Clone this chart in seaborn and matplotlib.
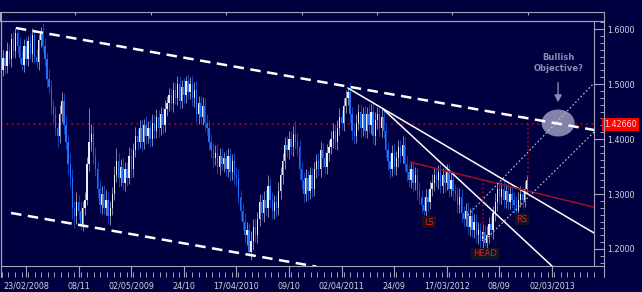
import numpy as np
import pandas as pd
import seaborn as sns
import matplotlib
matplotlib.use("Agg")
import matplotlib.pyplot as plt
from matplotlib.lines import Line2D
from matplotlib.patches import Ellipse
from matplotlib.ticker import FixedLocator

# ---------------- data (weekly EUR/USD-like candles) ----------------
first_open = 1.510
closes = [
    1.525, 1.548, 1.532, 1.560, 1.545, 1.582, 1.560, 1.592, 1.570, 1.548,
    1.535, 1.570, 1.545, 1.578, 1.555, 1.590, 1.550, 1.540, 1.580, 1.595,
    1.570, 1.545, 1.510, 1.495, 1.460, 1.445, 1.420, 1.405, 1.445, 1.470,
    1.425, 1.395, 1.355, 1.330, 1.275, 1.260, 1.285, 1.270, 1.245, 1.275,
    1.290, 1.355, 1.395, 1.410, 1.370, 1.345, 1.310, 1.280, 1.300, 1.275,
    1.290, 1.260, 1.275, 1.300, 1.335, 1.360, 1.330, 1.350, 1.320, 1.345,
    1.330, 1.370, 1.345, 1.380, 1.405, 1.395, 1.420, 1.395, 1.425, 1.405,
    1.420, 1.400, 1.430, 1.415, 1.440, 1.420, 1.445, 1.425, 1.455, 1.465,
    1.480, 1.465, 1.490, 1.475, 1.500, 1.470, 1.495, 1.480, 1.505, 1.485,
    1.500, 1.475, 1.490, 1.445, 1.465, 1.440, 1.460, 1.430, 1.420, 1.395,
    1.380, 1.365, 1.375, 1.350, 1.370, 1.355, 1.365, 1.345, 1.370, 1.340,
    1.360, 1.335, 1.330, 1.295, 1.270, 1.250, 1.225, 1.235, 1.195, 1.215,
    1.240, 1.225, 1.255, 1.285, 1.265, 1.290, 1.275, 1.315, 1.290, 1.270,
    1.285, 1.275, 1.305, 1.335, 1.360, 1.390, 1.380, 1.400, 1.385, 1.410,
    1.395, 1.385, 1.345, 1.325, 1.300, 1.330, 1.305, 1.335, 1.310, 1.345,
    1.360, 1.345, 1.380, 1.365, 1.350, 1.375, 1.385, 1.400, 1.415, 1.395,
    1.420, 1.440, 1.430, 1.460, 1.475, 1.485, 1.445, 1.415, 1.405, 1.430,
    1.450, 1.420, 1.445, 1.415, 1.445, 1.425, 1.450, 1.405, 1.435, 1.445,
    1.420, 1.440, 1.415, 1.380, 1.360, 1.345, 1.375, 1.350, 1.365, 1.385,
    1.370, 1.390, 1.355, 1.340, 1.325, 1.345, 1.320, 1.335, 1.305, 1.295,
    1.280, 1.270, 1.295, 1.285, 1.310, 1.320, 1.335, 1.325, 1.340, 1.315,
    1.335, 1.320, 1.340, 1.310, 1.325, 1.305, 1.300, 1.280, 1.295, 1.265,
    1.255, 1.270, 1.240, 1.260, 1.235, 1.250, 1.225, 1.235, 1.215, 1.230,
    1.210, 1.225, 1.245, 1.235, 1.265, 1.285, 1.310, 1.295, 1.310, 1.290,
    1.305, 1.285, 1.300, 1.290, 1.280, 1.270, 1.290, 1.300, 1.290, 1.310, 1.325,
]
# wick lengths above / below the candle body, in units of 0.001
wick_up = [
    12, 14, 10, 16, 13, 11, 14, 9, 12, 16,
    13, 11, 15, 10, 14, 12, 10, 13, 11, 9,
    16, 14, 12, 18, 13, 11, 15, 10, 16, 15,
    14, 16, 13, 19, 15, 12, 18, 14, 16, 13,
    14, 12, 62, 18, 14, 16, 13, 15, 14, 16,
    18, 14, 13, 12, 16, 24, 15, 13, 17, 14,
    13, 16, 14, 12, 17, 13, 15, 14, 12, 16,
    12, 14, 16, 13, 15, 12, 14, 13, 16, 14,
    13, 12, 14, 11, 15, 14, 13, 16, 9, 14,
    12, 14, 13, 15, 14, 13, 16, 14, 15, 13,
    14, 13, 15, 16, 13, 14, 12, 15, 13, 14,
    13, 15, 14, 16, 13, 14, 16, 15, 13, 18,
    14, 16, 13, 15, 14, 16, 18, 20, 14, 13,
    14, 13, 16, 15, 14, 13, 16, 15, 14, 13,
    22, 16, 14, 13, 15, 16, 14, 15, 13, 14,
    13, 14, 15, 13, 14, 16, 13, 15, 14, 13,
    14, 16, 13, 15, 14, 8, 16, 14, 13, 15,
    14, 14, 13, 15, 14, 16, 13, 15, 14, 13,
    13, 14, 16, 15, 14, 13, 15, 16, 14, 13,
    14, 16, 13, 15, 14, 13, 15, 14, 13, 16,
    13, 14, 15, 14, 13, 16, 14, 12, 13, 15,
    13, 13, 14, 16, 13, 15, 14, 13, 16, 14,
    14, 13, 15, 14, 16, 13, 14, 15, 13, 16,
    14, 16, 13, 15, 14, 16, 12, 14, 12, 15,
    14, 13, 15, 14, 13, 16, 14, 15, 13, 14, 10,
]
wick_dn = [
    14, 10, 13, 12, 9, 14, 11, 13, 16, 10,
    12, 14, 11, 13, 10, 15, 12, 11, 14, 13,
    12, 13, 16, 11, 14, 17, 12, 19, 13, 14,
    16, 14, 18, 17, 20, 22, 14, 16, 10, 13,
    13, 10, 14, 16, 15, 13, 17, 14, 16, 12,
    14, 12, 16, 13, 11, 14, 17, 16, 12, 15,
    15, 12, 16, 14, 13, 15, 12, 16, 13, 14,
    13, 15, 12, 14, 13, 16, 12, 15, 13, 14,
    14, 13, 15, 12, 14, 16, 13, 14, 15, 12,
    13, 15, 16, 14, 17, 13, 14, 16, 13, 15,
    15, 16, 13, 14, 16, 12, 15, 13, 14, 16,
    14, 16, 15, 13, 17, 16, 14, 18, 8, 15,
    16, 13, 15, 14, 13, 15, 14, 16, 14, 15,
    15, 16, 13, 14, 16, 15, 13, 16, 14, 15,
    14, 15, 17, 16, 14, 13, 16, 14, 15, 13,
    15, 13, 14, 16, 13, 14, 15, 13, 16, 14,
    15, 13, 14, 16, 13, 14, 15, 16, 14, 13,
    14, 16, 15, 13, 14, 13, 16, 14, 15, 16,
    15, 16, 14, 13, 16, 15, 13, 14, 16, 15,
    13, 14, 15, 16, 13, 14, 16, 13, 15, 14,
    14, 8, 16, 15, 13, 14, 15, 13, 16, 14,
    14, 16, 13, 15, 14, 16, 13, 15, 14, 16,
    15, 14, 13, 16, 14, 15, 13, 16, 14, 15,
    5, 15, 14, 13, 16, 14, 15, 13, 14, 16,
    15, 14, 13, 16, 14, 5, 16, 14, 15, 13, 10,
]

date_labels = ["23/02/2008", "08/11", "02/05/2009", "24/10", "17/04/2010", "09/10",
               "02/04/2011", "24/09", "17/03/2012", "08/09", "02/03/2013"]
price_ticks = [1.2, 1.3, 1.4, 1.5, 1.6]
last_price = 1.4266

# drawn analysis lines: (bar, price) endpoints
channel_upper_bars = [7.2, 282.0]
channel_upper_prices = [1.6018, 1.4164]
channel_lower_bars = [4.9, 150.0]
channel_lower_prices = [1.2655, 1.1680]
trend_shallow_bars = [165.0, 282.0]
trend_shallow_prices = [1.4927, 1.2291]
trend_steep_bars = [181.7, 263.0]
trend_steep_prices = [1.4545, 1.1655]
neckline_bars = [194.5, 282.0]
neckline_prices = [1.358, 1.276]
dot_upper_bars = [220.7, 282.0]
dot_upper_prices = [1.2564, 1.5018]
dot_lower_bars = [230.2, 282.0]
dot_lower_prices = [1.2164, 1.4127]
head_measure_bar = 229.2
head_measure_prices = [1.327, 1.2127]
break_measure_bar = 250.6
break_measure_prices = [last_price, 1.3255]
shoulder_labels = ["LS", "HEAD", "RS"]
shoulder_bars = [203.5, 230.2, 247.7]
shoulder_prices = [1.249, 1.191, 1.2545]
objective_center = (264.9, 1.4291)

# ---------------- derived table ----------------
opens = [first_open] + closes[:-1]
df = pd.DataFrame({"bar": np.arange(len(closes)), "open": opens, "close": closes,
                   "up": wick_up, "dn": wick_dn})
df["top"] = df[["open", "close"]].max(axis=1)
df["bot"] = df[["open", "close"]].min(axis=1)
df["high"] = df["top"] + df["up"] / 1000.0
df["low"] = df["bot"] - df["dn"] / 1000.0
df["bull"] = df["close"] >= df["open"]

# ---------------- styling ----------------
BG = "#000040"
FR = "#a4a4b8"
TXT = "#d4d4dc"
sns.set_theme(style="dark", rc={"axes.facecolor": BG, "figure.facecolor": BG,
                                "axes.edgecolor": FR, "savefig.facecolor": BG})
plt.rcParams["font.family"] = ["DejaVu Sans"]

W, H = 642, 292
fig = plt.figure(figsize=(W / 100, H / 100), dpi=100)
fig.patch.set_facecolor(BG)

def fx(px):
    return px / W

def fy(py):
    return 1 - py / H

XL = (0.12, 281.97)
YL = (1.16909, 1.61455)

ax = fig.add_axes([fx(1), fy(266), (594 - 1) / W, (266 - 21) / H])
ax.set_facecolor(BG)
ax.set_xlim(*XL)
ax.set_ylim(*YL)
ax.set_xticks([])
ax.set_yticks([])
ax.grid(False)
for s in ax.spines.values():
    s.set_color(FR)
    s.set_linewidth(0.8)
    s.set_visible(True)

# red horizontal line at the last price
ax.axhline(last_price, color="#b00010", lw=1.3, ls=(0, (1, 2)), zorder=2)

# candles
bull = df[df.bull]
bear = df[~df.bull]
ax.vlines(bull.bar, bull.low, bull.high, colors="#9a9ab4", lw=0.6, zorder=3)
ax.vlines(bear.bar, bear.low, bear.high, colors="#1050d8", lw=0.6, zorder=3)
ax.bar(bull.bar, np.maximum(bull.top - bull.bot, 0.002), bottom=bull.bot, width=0.62,
       color="#ececf4", linewidth=0, zorder=4)
ax.bar(bear.bar, np.maximum(bear.top - bear.bot, 0.002), bottom=bear.bot, width=0.62,
       color="#1c70ff", linewidth=0, zorder=4)

# ellipse + objective annotation
ell = Ellipse(objective_center, width=15.7, height=0.049, facecolor="#8a8ab2",
              edgecolor="none", alpha=0.95, zorder=5)
ax.add_patch(ell)
ax.annotate("", xy=(objective_center[0], 1.4618), xytext=(objective_center[0], 1.5073),
            arrowprops=dict(arrowstyle="-|>,head_length=0.35,head_width=0.18",
                            color="#8a8ab2", lw=1.0), zorder=6)
ax.text(objective_center[0], 1.538, "Bullish\nObjective?", ha="center", va="center",
        color="#8a8ab2", fontsize=6.0, fontweight="bold", linespacing=1.35, zorder=6)

# channel (dashed white)
ax.plot(channel_upper_bars, channel_upper_prices, color="white", lw=1.8,
        ls=(0, (4.2, 2.6)), zorder=6, dash_capstyle="butt")
ax.plot(channel_lower_bars, channel_lower_prices, color="white", lw=1.8,
        ls=(0, (4.2, 2.6)), zorder=6, dash_capstyle="butt")

# solid trend lines
sns.lineplot(x=trend_shallow_bars, y=trend_shallow_prices, ax=ax, color="white",
             lw=1.1, zorder=6, sort=False)
sns.lineplot(x=trend_steep_bars, y=trend_steep_prices, ax=ax, color="white",
             lw=1.1, zorder=6, sort=False)
sns.lineplot(x=neckline_bars, y=neckline_prices, ax=ax, color="#a01020",
             lw=1.1, zorder=6, sort=False)

# dotted projection channel
ax.plot(dot_upper_bars, dot_upper_prices, color="#c8c8d8", lw=0.8, ls=(0, (1.5, 2)), zorder=6)
ax.plot(dot_lower_bars, dot_lower_prices, color="#c8c8d8", lw=0.8, ls=(0, (1.5, 2)), zorder=6)

# red measuring verticals
ax.plot([head_measure_bar] * 2, head_measure_prices, color="#c00010", lw=1.1,
        ls=(0, (1, 1.8)), zorder=6)
ax.plot([break_measure_bar] * 2, break_measure_prices, color="#c00010", lw=1.1,
        ls=(0, (1, 1.8)), zorder=6)

for lab, b, p in zip(shoulder_labels, shoulder_bars, shoulder_prices):
    ax.text(b, p, lab, ha="center", va="center", color="#ee1c1c", fontsize=6.0, zorder=7,
            bbox=dict(boxstyle="square,pad=0.2", facecolor="#121224", edgecolor="none"))

ax.set_xlabel("")
ax.set_ylabel("")
if ax.get_legend():
    ax.get_legend().remove()

# ---------------- x tick strip ----------------
axx = fig.add_axes([fx(1), fy(277), (594 - 1) / W, 11 / H])
axx.set_facecolor("none")
axx.set_xlim(*XL)
axx.set_ylim(0, 1)
for s in axx.spines.values():
    s.set_visible(False)
axx.grid(False)
major_bars = [12 + 25 * k for k in range(len(date_labels))]
axx.xaxis.set_major_locator(FixedLocator(major_bars))
axx.xaxis.set_minor_locator(FixedLocator(list(np.arange(0.5, 282, 25 / 8))))
axx.set_xticklabels(date_labels)
axx.set_yticks([])
axx.tick_params(axis="x", which="major", direction="in", length=7.9, width=0.8,
                color=FR, labelcolor=TXT, labelsize=5.8, pad=3.0, bottom=True)
axx.tick_params(axis="x", which="minor", direction="in", length=3.4, width=0.7,
                color=FR, bottom=True)

# ---------------- y tick strip ----------------
axy = fig.add_axes([fx(594), fy(266), 10 / W, (266 - 21) / H])
axy.set_facecolor("none")
axy.set_ylim(*YL)
axy.set_xlim(0, 1)
for s in axy.spines.values():
    s.set_visible(False)
axy.grid(False)
axy.set_xticks([])
axy.yaxis.tick_right()
axy.yaxis.set_major_locator(FixedLocator(price_ticks))
axy.yaxis.set_minor_locator(FixedLocator(list(np.arange(1.1625, 1.62, 0.0125))))
axy.set_yticklabels([f"{v:.4f}" for v in price_ticks])
axy.tick_params(axis="y", which="major", direction="in", length=7.2, width=0.8,
                color=FR, labelcolor=TXT, labelsize=5.8, pad=2.0, right=True, left=False)
axy.tick_params(axis="y", which="minor", direction="in", length=2.9, width=0.7,
                color=FR, right=True, left=False)
axy.text(1.0, last_price, "1.42660", transform=axy.get_yaxis_transform(), ha="left",
         va="center", color="#ffd4d4", fontsize=5.8, clip_on=False,
         bbox=dict(boxstyle="square,pad=0.25", facecolor="#ff0000", edgecolor="none"))

# ---------------- top strip ----------------
axt = fig.add_axes([fx(0), fy(21), 604 / W, 9 / H])
axt.set_facecolor("none")
axt.set_xlim(0, 604)
axt.set_ylim(0, 1)
axt.grid(False)
for s in axt.spines.values():
    s.set_color(FR)
    s.set_linewidth(0.8)
axt.spines["right"].set_visible(False)
axt.set_yticks([])
axt.set_xticks([75, 151, 226, 302, 377, 452, 528])
axt.set_xticklabels([])
axt.xaxis.tick_top()
axt.tick_params(axis="x", direction="in", length=2.5, width=0.8, color=FR, top=True,
                bottom=False)

# outer frame pieces
def fline(x0, y0, x1, y1):
    fig.add_artist(Line2D([fx(x0), fx(x1)], [fy(y0), fy(y1)], color=FR, lw=0.8,
                          transform=fig.transFigure))

fline(604, 12, 604, 277)
fline(594, 266, 604, 266)
fline(0.5, 12, 0.5, 277)

fig.savefig("out.png", dpi=100, facecolor=BG)
